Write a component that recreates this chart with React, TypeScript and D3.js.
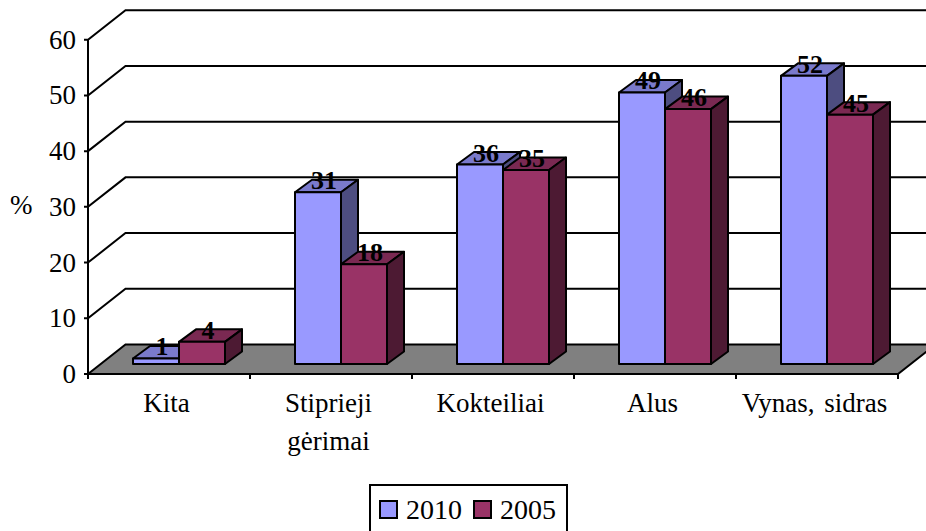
import * as d3 from "d3";

const categories = ["Kita", "Stiprieji gėrimai", "Kokteiliai", "Alus", "Vynas, sidras"];
const seriesNames = ["2010", "2005"];
const values2010 = [1, 31, 36, 49, 52];
const values2005 = [4, 18, 35, 46, 45];
const yTicks = [0, 10, 20, 30, 40, 50, 60];

const frontColors = ["#9999ff", "#993366"];
const topColors = ["#7a7acc", "#7a2952"];
const sideColors = ["#4d4d80", "#4d1a33"];

const WIDTH = 926;
const HEIGHT = 531;
const FONT = "'Liberation Serif', 'Times New Roman', serif";

// oblique offset of the 3D box
const depthX = 37.5;
const depthY = 29.5;
const barDx = 17;
const barDy = 12.5;
const barShiftX = 10;

const x = d3.scaleBand<string>().domain(categories).range([88, 898]);
const y = d3.scaleLinear().domain([0, 60]).range([374, 39.7]);
const barY = d3.scaleLinear().domain([0, 60]).range([364, 31.5]);
const inner = d3.scaleBand<string>().domain(seriesNames).range([0, 92]);

const poly = (pts: [number, number][]) => d3.line()(pts) + "Z";
const barLeft = (cat: string, s: number) => x(cat)! + x.bandwidth() / 2 - 46 + barShiftX + inner(seriesNames[s])!;

function Bar({ cat, s, value }: { cat: string; s: number; value: number }) {
  const left = barLeft(cat, s);
  const w = inner.bandwidth();
  const bottom = barY(0);
  const top = barY(value);
  return (
    <g stroke="#000" strokeWidth={2} strokeLinejoin="round">
      <path d={poly([[left, top], [left + barDx, top - barDy], [left + w + barDx, top - barDy], [left + w, top]])} fill={topColors[s]} />
      <path d={poly([[left + w, top], [left + w + barDx, top - barDy], [left + w + barDx, bottom - barDy], [left + w, bottom]])} fill={sideColors[s]} />
      <rect x={left} y={top} width={w} height={bottom - top} fill={frontColors[s]} />
    </g>
  );
}

function ValueLabel({ cat, s, value }: { cat: string; s: number; value: number }) {
  return (
    <text x={barLeft(cat, s) + inner.bandwidth() / 2 + 6} y={barY(value) - 3} textAnchor="middle" fontSize={26} fontWeight="bold" fontFamily={FONT}>
      {value}
    </text>
  );
}

export default function App() {
  const series = [values2010, values2005];
  const tickX = [...categories.map((c) => x(c)!), x.range()[1]];
  return (
    <svg width={WIDTH} height={HEIGHT} style={{ position: "fixed", left: 0, top: 0, background: "#fff" }} fontFamily={FONT}>
      {/* back wall gridlines */}
      {yTicks.slice(1).map((t) => (
        <path key={t} d={d3.line()([[84, y(t)], [88, y(t)], [88 + depthX, y(t) - depthY], [WIDTH, y(t) - depthY]])!} fill="none" stroke="#000" strokeWidth={2} />
      ))}
      {/* floor */}
      <path
        d={poly([[88, y(0)], [88 + depthX, y(0) - depthY], [898 + depthX, y(0) - depthY], [898, y(0)]])}
        fill="#808080"
        stroke="#000"
        strokeWidth={2}
      />
      <line x1={88} x2={88} y1={y(60)} y2={y(0) + 4} stroke="#000" strokeWidth={2} />
      <line x1={84} x2={88} y1={y(0)} y2={y(0)} stroke="#000" strokeWidth={2} />
      {tickX.map((t) => (
        <line key={t} x1={t} x2={t} y1={y(0)} y2={y(0) + 5} stroke="#000" strokeWidth={2} />
      ))}
      {/* bars */}
      {categories.map((c, i) => (
        <g key={c}>
          {series.map((v, s) => (
            <Bar key={s} cat={c} s={s} value={v[i]} />
          ))}
        </g>
      ))}
      {categories.map((c, i) => (
        <g key={c}>
          {series.map((v, s) => (
            <ValueLabel key={s} cat={c} s={s} value={v[i]} />
          ))}
        </g>
      ))}
      {/* y axis labels */}
      {yTicks.map((t) => (
        <text key={t} x={76} y={y(t) + 9} textAnchor="end" fontSize={27}>
          {t}
        </text>
      ))}
      <text x={10} y={214} fontSize={27}>%</text>
      {/* category labels */}
      {categories.map((c) => {
        const lines = c === "Stiprieji gėrimai" ? c.split(" ") : [c];
        const cx = x(c)! + x.bandwidth() / 2 - 2.5;
        return (
          <text key={c} x={cx} y={412} textAnchor="middle" fontSize={27} wordSpacing={3}>
            {lines.map((l, i) => (
              <tspan key={l} x={cx} dy={i === 0 ? 0 : 38}>
                {l}
              </tspan>
            ))}
          </text>
        );
      })}
      {/* legend */}
      <rect x={370} y={485} width={197} height={52} fill="#fff" stroke="#000" strokeWidth={2} />
      {seriesNames.map((n, i) => (
        <g key={n} transform={`translate(${380 + i * 94},501)`}>
          <rect width={17} height={17} fill={frontColors[i]} stroke="#000" strokeWidth={2} />
          <text x={26} y={18} fontSize={28}>{n}</text>
        </g>
      ))}
    </svg>
  );
}
